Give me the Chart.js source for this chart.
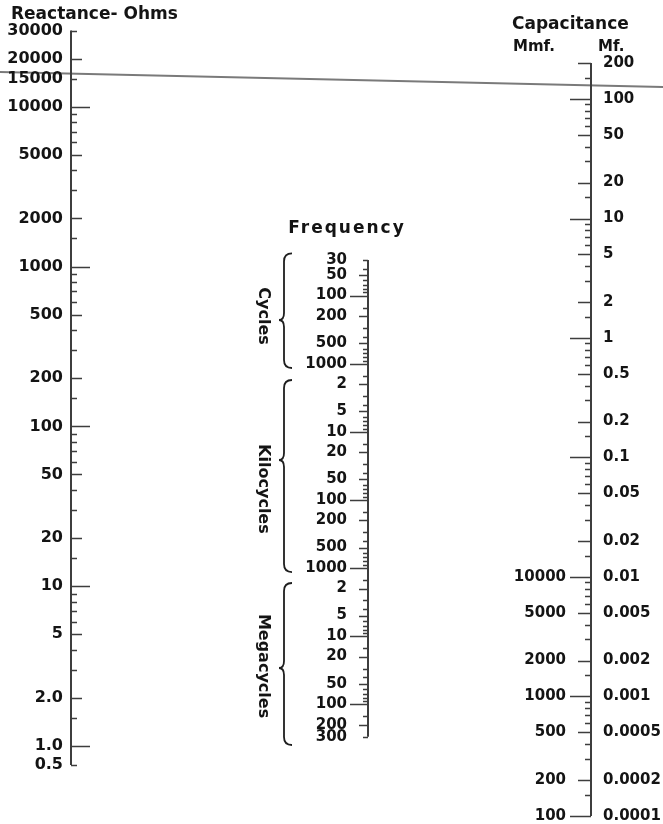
<!DOCTYPE html>
<html>
<head>
<meta charset="utf-8">
<script src="https://cdn.jsdelivr.net/npm/chart.js@4.4.1/dist/chart.umd.min.js"></script>
<style>
  html, body { margin: 0; padding: 0; background: #fff; }
  #wrap { width: 663px; height: 824px; position: relative; }
</style>
</head>
<body>
<div id="wrap"><canvas id="chart"></canvas></div>
<script>
// Reactance scale, ohms. The last mark is printed "0.5" but sits where ~0.76 falls on the scale.
const reactanceValues = [30000, 20000, 15000, 10000, 5000, 2000, 1000, 500, 200, 100, 50, 20, 10, 5, 2, 1, 0.76];
const reactanceLabels = ['30000', '20000', '15000', '10000', '5000', '2000', '1000', '500', '200', '100', '50', '20', '10', '5', '2.0', '1.0', '0.5'];

// Frequency scale, values in cycles per second
const freqValues = [30, 50, 100, 200, 500, 1000, 2e3, 5e3, 1e4, 2e4, 5e4, 1e5, 2e5, 5e5, 1e6, 2e6, 5e6, 1e7, 2e7, 5e7, 1e8, 2e8, 3e8];
const freqLabels = ['30', '50', '100', '200', '500', '1000', '2', '5', '10', '20', '50', '100', '200', '500', '1000', '2', '5', '10', '20', '50', '100', '200', '300'];
const freqGroups = ['Cycles', 'Kilocycles', 'Megacycles'];
const freqGroupFrom = [24, 1735, 1.66e6];
const freqGroupTip = [228, 25950, 2.94e7];
const freqGroupTo = [1156, 1.146e6, 3.97e8];
const freqGroupText = [200, 69000, 2.75e7];

// Capacitance scale, microfarads (Mf) and micro-microfarads (Mmf)
const capMfValues = [200, 100, 50, 20, 10, 5, 2, 1, 0.5, 0.2, 0.1, 0.05, 0.02, 0.01, 0.005, 0.002, 0.001, 0.0005, 0.0002, 0.0001];
const capMfLabels = ['200', '100', '50', '20', '10', '5', '2', '1', '0.5', '0.2', '0.1', '0.05', '0.02', '0.01', '0.005', '0.002', '0.001', '0.0005', '0.0002', '0.0001'];
const capMmfValues = [10000, 5000, 2000, 1000, 500, 200, 100];
const capMmfLabels = ['10000', '5000', '2000', '1000', '500', '200', '100'];

// straight edge laid across the chart: reactance read at the left and right edges
const isoplethOhms = [16500, 13300];

const mantissas = [1, 1.5, 2, 3, 4, 5, 6, 7, 8, 9];

// layout
const AX = { reactance: 71, freq: 368, cap: 591 };
const FONT = '"DejaVu Sans", sans-serif';
const INK = '#3d3d3d';
const TEXT = '#141414';

function logTicks(lo, hi) {
  const out = [];
  for (let e = Math.floor(Math.log10(lo)) - 1; e <= Math.ceil(Math.log10(hi)); e++) {
    mantissas.forEach(m => {
      const v = m * Math.pow(10, e);
      if (v >= lo * 0.999 && v <= hi * 1.001) out.push(v);
    });
  }
  return out;
}

function tickKind(v) {
  const e = Math.floor(Math.log10(v) + 1e-9);
  const m = Math.round(v / Math.pow(10, e) * 10) / 10;
  if (m === 1) return 0;
  if (m === 2 || m === 5) return 1;
  return 2;
}

function drawTicks(ctx, scale, x, dir, values, lens) {
  ctx.beginPath();
  values.forEach(v => {
    const y = Math.round(scale.getPixelForValue(v)) + 0.5;
    ctx.moveTo(x, y);
    ctx.lineTo(x + dir * lens[tickKind(v)], y);
  });
  ctx.stroke();
}

function drawLabels(ctx, scale, x, align, values, labels) {
  ctx.textAlign = align;
  values.forEach((v, i) => ctx.fillText(labels[i], x, scale.getPixelForValue(v)));
}

function brace(ctx, xTip, y0, yMid, y1) {
  const xs = xTip + 5, xe = xTip + 13;
  ctx.beginPath();
  ctx.moveTo(xe, y0);
  ctx.quadraticCurveTo(xs, y0, xs, y0 + 8);
  ctx.lineTo(xs, yMid - 7);
  ctx.quadraticCurveTo(xs, yMid, xTip, yMid);
  ctx.quadraticCurveTo(xs, yMid, xs, yMid + 7);
  ctx.lineTo(xs, y1 - 8);
  ctx.quadraticCurveTo(xs, y1, xe, y1);
  ctx.stroke();
}

const nomogram = {
  id: 'nomogram',
  afterDatasetsDraw(chart) {
    const { ctx, scales } = chart;
    const xR = scales.x.getPixelForValue(AX.reactance);
    const xF = scales.x.getPixelForValue(AX.freq);
    const xC = scales.x.getPixelForValue(AX.cap);
    ctx.save();
    ctx.strokeStyle = INK;
    ctx.lineWidth = 1.6;
    ctx.lineCap = 'butt';

    // tick marks
    drawTicks(ctx, scales.yR, xR, 1, logTicks(1, 30000).concat([reactanceValues.at(-1)]), [19, 11, 6]);
    drawTicks(ctx, scales.yF, xF, -1, logTicks(30, 3e8), [18, 9, 5]);
    drawTicks(ctx, scales.yC, xC, -1, logTicks(0.0001, 200), [21, 13, 6]);

    // tick labels
    ctx.fillStyle = TEXT;
    ctx.textBaseline = 'middle';
    ctx.font = 'bold 16px ' + FONT;
    drawLabels(ctx, scales.yR, xR - 8, 'right', reactanceValues, reactanceLabels);
    ctx.font = 'bold 15px ' + FONT;
    drawLabels(ctx, scales.yF, xF - 21, 'right', freqValues, freqLabels);
    drawLabels(ctx, scales.yC, xC + 12, 'left', capMfValues, capMfLabels);
    drawLabels(ctx, scales.yC, xC - 25, 'right', capMmfValues.map(v => v * 1e-6), capMmfLabels);

    // braces and group names on the frequency scale
    ctx.strokeStyle = '#1e1e1e';
    ctx.lineWidth = 1.8;
    ctx.font = 'bold 16px ' + FONT;
    ctx.textAlign = 'center';
    freqGroups.forEach((name, i) => {
      const yF = scales.yF;
      brace(ctx, xF - 89, yF.getPixelForValue(freqGroupFrom[i]), yF.getPixelForValue(freqGroupTip[i]), yF.getPixelForValue(freqGroupTo[i]));
      ctx.save();
      ctx.translate(xF - 105, yF.getPixelForValue(freqGroupText[i]));
      ctx.rotate(Math.PI / 2);
      ctx.fillText(name, 0, 0);
      ctx.restore();
    });

    // titles
    ctx.font = 'bold 17px ' + FONT;
    ctx.textAlign = 'left';
    ctx.fillText('Reactance- Ohms', 11, 15);
    ctx.fillText('Capacitance', 512, 25);
    ctx.font = 'bold 15px ' + FONT;
    ctx.fillText('Mmf.', 513, 47);
    ctx.fillText('Mf.', 598, 47);
    ctx.font = 'bold 17px ' + FONT;
    ctx.letterSpacing = '2px';
    ctx.textAlign = 'center';
    ctx.fillText('Frequency', xF - 21, 229);
    ctx.restore();
  }
};

const spine = (x, a, b, axis) => ({
  data: [{ x: x, y: a }, { x: x, y: b }],
  yAxisID: axis,
  borderColor: INK,
  borderWidth: 2,
  pointRadius: 0
});

new Chart(document.getElementById('chart'), {
  type: 'line',
  data: {
    datasets: [
      spine(AX.reactance, reactanceValues[0], reactanceValues.at(-1), 'yR'),
      spine(AX.freq, freqValues[0], freqValues.at(-1), 'yF'),
      spine(AX.cap, capMfValues[0], capMfValues.at(-1), 'yC'),
      {
        data: [{ x: 0, y: isoplethOhms[0] }, { x: 663, y: isoplethOhms[1] }],
        yAxisID: 'yR',
        borderColor: '#7a7a7a',
        borderWidth: 2,
        pointRadius: 0
      }
    ]
  },
  options: {
    animation: false,
    responsive: true,
    maintainAspectRatio: false,
    layout: { padding: 0 },
    plugins: { legend: { display: false }, tooltip: { enabled: false } },
    scales: {
      x: { type: 'linear', min: 0, max: 663, display: false, bounds: 'data' },
      yR: { type: 'logarithmic', min: 0.325, max: 46580, display: false, bounds: 'data' },
      yF: { type: 'logarithmic', min: 0.004564, max: 5.743e9, reverse: true, display: false, bounds: 'data' },
      yC: { type: 'logarithmic', min: 8.569e-5, max: 673.9, display: false, bounds: 'data' }
    }
  },
  plugins: [nomogram]
});
</script>
</body>
</html>
